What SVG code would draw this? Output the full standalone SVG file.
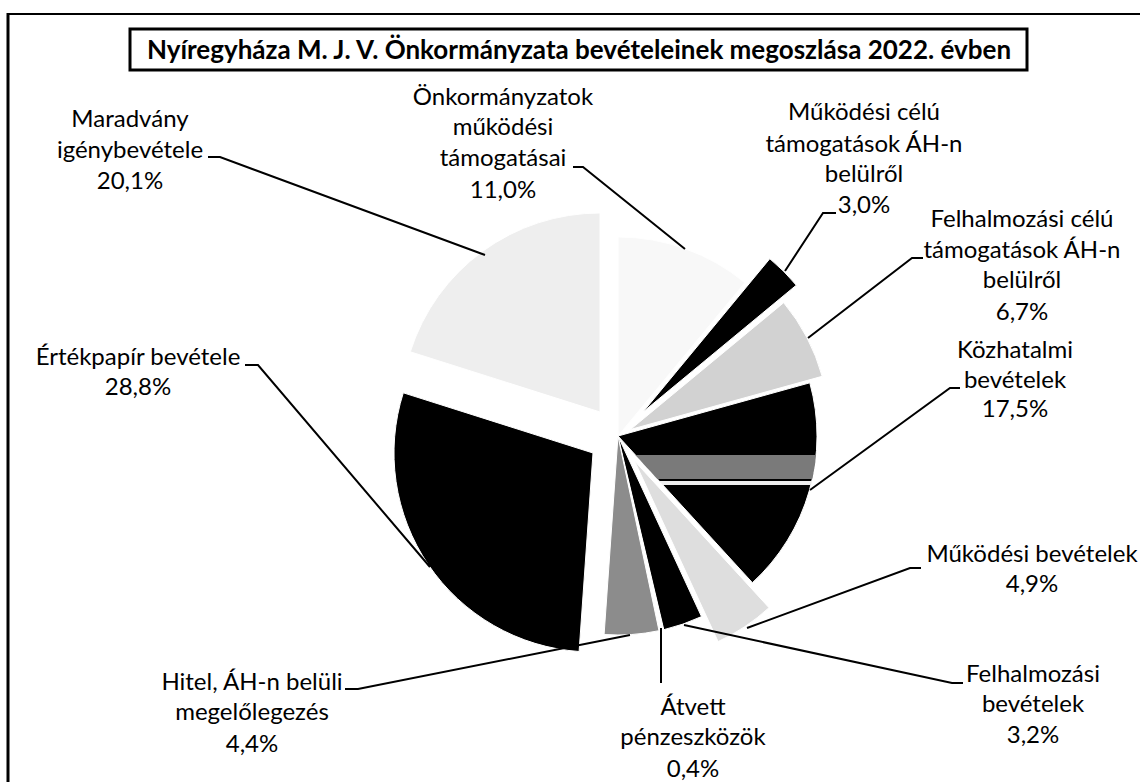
<svg xmlns="http://www.w3.org/2000/svg" width="1140" height="782" viewBox="0 0 1140 782">
<style>
.lbl{font-family:Lato,"Liberation Sans",sans-serif;font-size:24px;fill:#000;text-anchor:middle}
.ttl{font-family:Lato,"Liberation Sans",sans-serif;font-size:26px;font-weight:bold;fill:#000;text-anchor:middle}
.ld{fill:none;stroke:#000;stroke-width:2}
.sl{stroke:#fff;stroke-width:1}
</style>
<defs>
<clipPath id="kozClip"><path d="M618,436 L809.8,382.8 A199,199 0 0 1 752.4,582.7 Z"/></clipPath>
</defs>
<rect width="1140" height="782" fill="#fff"/>
<g id="frame">
<line x1="7" y1="14" x2="1140" y2="14" stroke="#000" stroke-width="2"/>
<line x1="8" y1="13" x2="8" y2="782" stroke="#000" stroke-width="3"/>
</g>
<g id="title">
<rect x="130" y="29" width="897" height="41" fill="#fff" stroke="#000" stroke-width="3"/>
<text class="ttl" x="579" y="59">Nyíregyháza M. J. V. Önkormányzata bevételeinek megoszlása 2022. évben</text>
</g>
<g id="slices">
<path id="s-onk" class="sl" fill="#f8f8f8" d="M618,436 L618,237 A199,199 0 0 1 744.8,282.7 Z"/>
<path id="s-mar" class="sl" fill="#eeeeee" d="M600,412 L410.3,351.8 A199,199 0 0 1 600,213 Z"/>
<path id="s-mukc" class="sl" fill="#000" d="M643,412 L769.8,258.7 A199,199 0 0 1 796.3,285.2 Z"/>
<path id="s-felc" class="sl" fill="#d2d2d2" d="M630.4,429.5 L783.7,302.7 A199,199 0 0 1 822.2,376.3 Z"/>
<path id="s-koz" class="sl" fill="#000" d="M618,436 L809.8,382.8 A199,199 0 0 1 752.4,582.7 Z"/>
<g clip-path="url(#kozClip)">
<rect x="620" y="455" width="210" height="24" fill="#7a7a7a"/>
<rect x="620" y="481" width="210" height="4" fill="#eeeeee"/>
</g>
<path id="s-mukb" class="sl" fill="#dedede" d="M634.6,461 L769,607.7 A199,199 0 0 1 718.1,641.6 Z"/>
<path id="s-felb" class="sl" fill="#000" d="M618,436 L701.5,616.6 A199,199 0 0 1 663.8,629.7 Z"/>
<path id="s-atv" fill="#fff" d="M618,436 L663.8,629.7 A199,199 0 0 1 659,630.7 Z"/>
<path id="s-hit" class="sl" fill="#8c8c8c" d="M618,436 L659,630.7 A199,199 0 0 1 604.1,634.5 Z"/>
<path id="s-ert" class="sl" fill="#000" d="M593,453 L579.1,651.5 A199,199 0 0 1 403.3,392.8 Z"/>
</g>
<g id="connectors">
<path class="ld" d="M208,157 H220 L485,255"/>
<path class="ld" d="M573,167 H583 L685,249"/>
<path class="ld" d="M836,213 H823 L785,271"/>
<path class="ld" d="M923,258 H912 L808,338"/>
<path class="ld" d="M960,388 H950 L810,490"/>
<path class="ld" d="M921,568 H910 L747,628"/>
<path class="ld" d="M963,683 H952 L684,625"/>
<path class="ld" d="M661,628 V683"/>
<path class="ld" d="M345,689 H358 L630,635"/>
<path class="ld" d="M245,365 H258 L430,567"/>
</g>
<g id="lbl-maradvany"><text class="lbl" x="130" y="127">Maradvány</text><text class="lbl" x="130" y="158">igénybevétele</text><text class="lbl" x="130" y="189">20,1%</text></g>
<g id="lbl-onk"><text class="lbl" x="503" y="105">Önkormányzatok</text><text class="lbl" x="503" y="135">működési</text><text class="lbl" x="503" y="166">támogatásai</text><text class="lbl" x="503" y="198">11,0%</text></g>
<g id="lbl-mukc"><text class="lbl" x="864" y="120">Működési célú</text><text class="lbl" x="864" y="152">támogatások ÁH-n</text><text class="lbl" x="864" y="182">belülről</text><text class="lbl" x="864" y="213">3,0%</text></g>
<g id="lbl-felc"><text class="lbl" x="1022" y="227">Felhalmozási célú</text><text class="lbl" x="1022" y="258">támogatások ÁH-n</text><text class="lbl" x="1022" y="288">belülről</text><text class="lbl" x="1022" y="320">6,7%</text></g>
<g id="lbl-koz"><text class="lbl" x="1015" y="358">Közhatalmi</text><text class="lbl" x="1015" y="388">bevételek</text><text class="lbl" x="1015" y="417">17,5%</text></g>
<g id="lbl-mukb"><text class="lbl" x="1032" y="562">Működési bevételek</text><text class="lbl" x="1032" y="592">4,9%</text></g>
<g id="lbl-felb"><text class="lbl" x="1033" y="682">Felhalmozási</text><text class="lbl" x="1033" y="712">bevételek</text><text class="lbl" x="1033" y="743">3,2%</text></g>
<g id="lbl-atv"><text class="lbl" x="693" y="715">Átvett</text><text class="lbl" x="693" y="745">pénzeszközök</text><text class="lbl" x="693" y="777">0,4%</text></g>
<g id="lbl-hit"><text class="lbl" x="252" y="690">Hitel, ÁH-n belüli</text><text class="lbl" x="252" y="720">megelőlegezés</text><text class="lbl" x="252" y="752">4,4%</text></g>
<g id="lbl-ert"><text class="lbl" x="138" y="365">Értékpapír bevétele</text><text class="lbl" x="138" y="395">28,8%</text></g>
</svg>
